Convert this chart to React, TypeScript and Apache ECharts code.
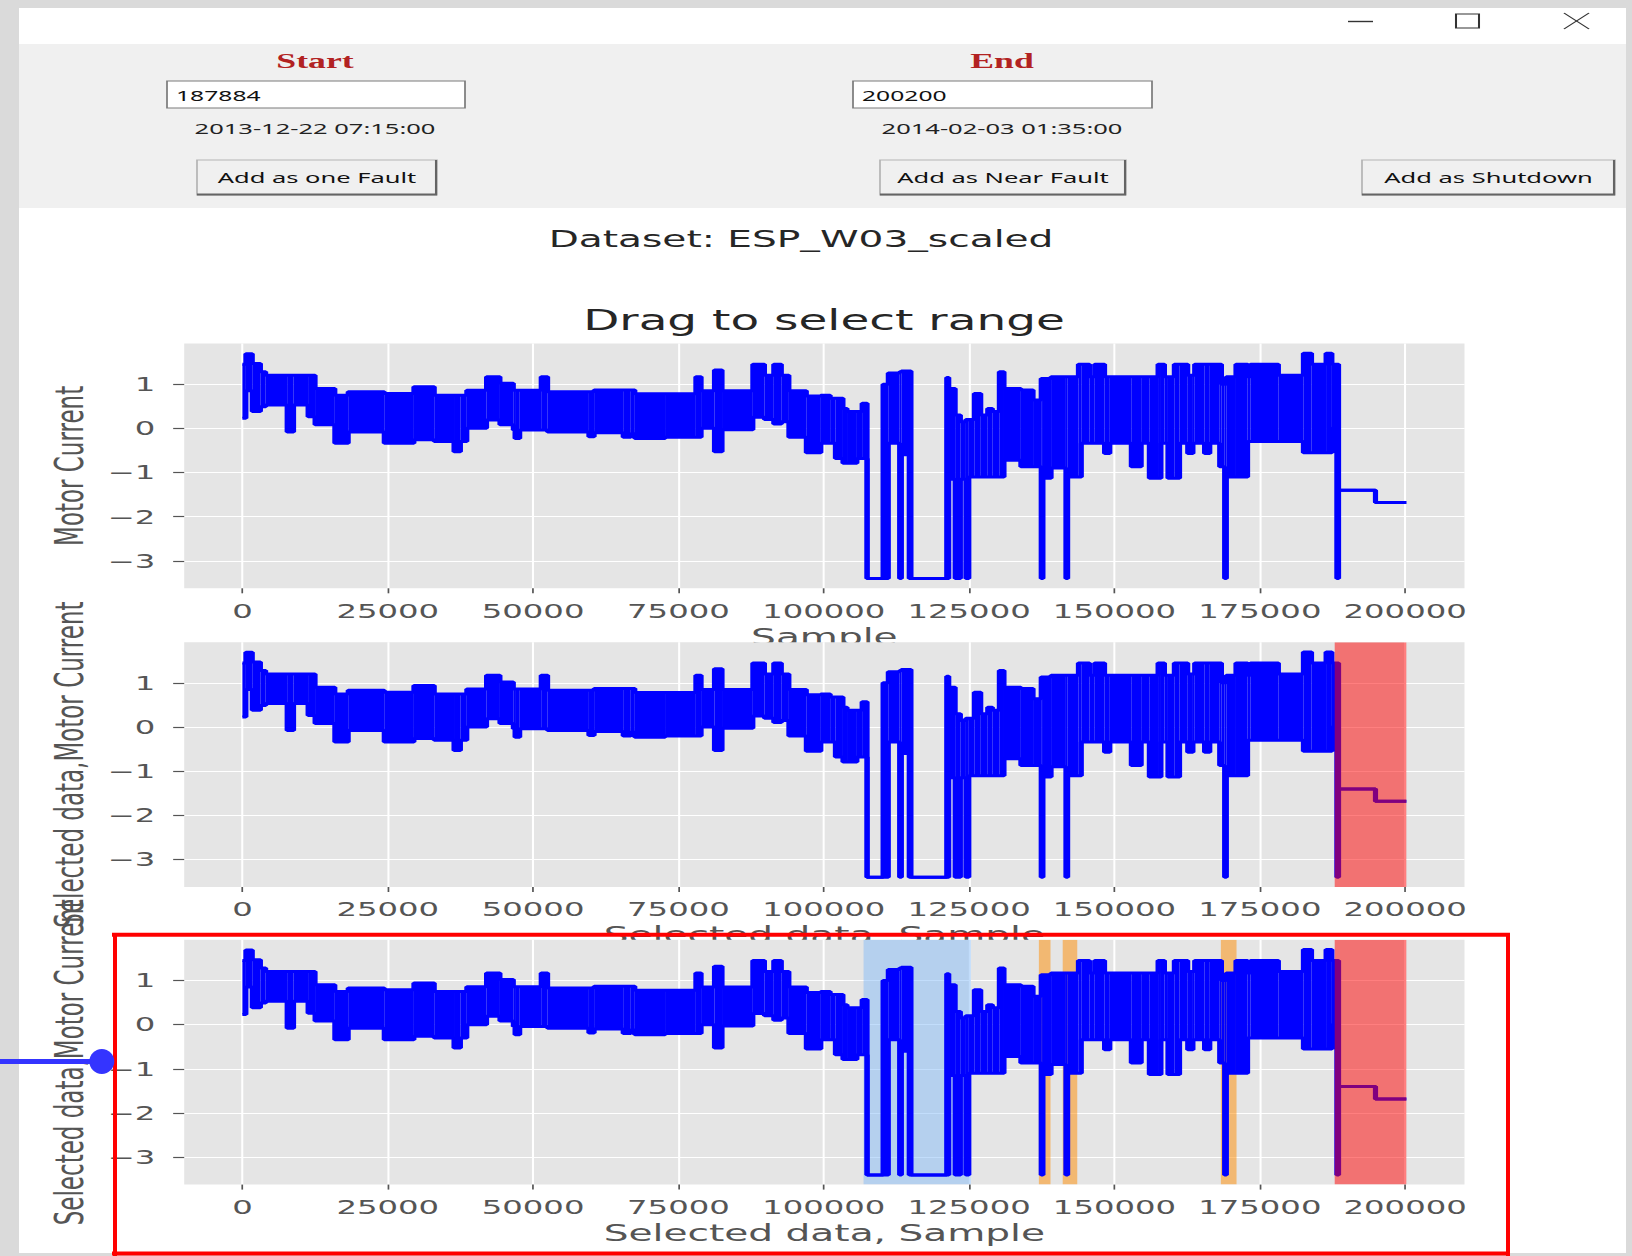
import React, { useEffect, useRef } from 'react';
import * as echarts from 'echarts';

// ---------------- data ----------------
const startIndex = '187884';
const endIndex = '200200';
const startTime = '2013-12-22 07:15:00';
const endTime = '2014-02-03 01:35:00';
const datasetTitle = 'Dataset: ESP_W03_scaled';
const chartTitle = 'Drag to select range';
const buttonLabels = ['Add as one Fault', 'Add as Near Fault', 'Add as Shutdown'];

// piecewise-constant envelope of the Motor Current signal (value holds from sampleX[i] to sampleX[i+1])
const sampleX = [
  0, 600, 1700, 3100, 4000, 7700, 8800, 11300, 12500, 15900,
  18200, 24400, 29500, 33000, 36400, 37500, 38600, 42000, 44300, 46600,
  46900, 47700, 51400, 52500, 59600, 60500, 65500, 66800, 67500, 72700,
  78000, 78900, 81200, 82500, 87800, 89800, 91400, 92700, 94000, 97000,
  99500, 101100, 102000, 103300, 104000, 105700, 106600, 107450, 110200, 111100,
  113050, 113350, 114700, 115000, 121150, 121500, 122600, 123500, 124450, 124950,
  125900, 127000, 128200, 129000, 130200, 131000, 133900, 136000, 137400, 137700,
  139100, 141650, 141950, 143800, 144300, 145700, 146600, 148300, 149200, 152900,
  154600, 156000, 157500, 158000, 158600, 159200, 160300, 161200, 162600, 163500,
  163800, 165500, 166400, 168100, 168400, 168950, 169250, 170900, 172900, 173400,
  178200, 182500, 183900, 186400, 187400, 188250, 188550, 194900, 200200,
];
const upperEnv = [
  1.45, 1.69, 1.47, 1.28, 1.2, 1.2, 1.2, 1.2, 0.9, 0.75,
  0.83, 0.79, 0.94, 0.75, 0.75, 0.75, 0.86, 1.17, 1.02, 0.86,
  0.86, 0.86, 1.17, 0.83, 0.83, 0.87, 0.87, 0.87, 0.78, 0.78,
  1.17, 0.85, 1.32, 0.85, 1.45, 1.2, 1.45, 1.2, 0.85, 0.73,
  0.75, 0.68, 0.68, 0.45, 0.38, 0.38, 0.57, -3.4, 1.0, 1.25,
  1.28, 1.3, 1.3, -3.4, 1.15, 0.9, 0.3, 0.15, 0.2, 0.2,
  0.79, 0.3, 0.45, 0.38, 1.28, 0.9, 0.87, 0.64, 1.13, 1.13,
  1.17, 1.17, 1.17, 1.45, 1.45, 1.17, 1.45, 1.17, 1.17, 1.17,
  1.17, 1.17, 1.45, 1.45, 1.17, 1.17, 1.45, 1.45, 1.2, 1.2,
  1.45, 1.45, 1.45, 1.45, 1.0, 1.0, 1.17, 1.45, 1.17, 1.45,
  1.2, 1.7, 1.45, 1.7, 1.45, 1.45, -1.4, -1.68, -1.68,
];
const lowerEnv = [
  0.23, 0.85, 0.38, 0.49, 0.53, -0.08, 0.53, 0.26, 0.08, -0.34,
  -0.08, -0.34, -0.26, -0.3, -0.53, -0.3, 0.0, 0.19, 0.08, -0.04,
  -0.23, -0.04, -0.04, -0.08, -0.19, -0.1, -0.2, -0.12, -0.23, -0.2,
  -0.2, 0.0, -0.53, -0.03, 0.25, 0.2, 0.1, 0.15, -0.2, -0.55,
  -0.34, -0.34, -0.68, -0.79, -0.79, -0.68, -0.68, -3.4, -3.4, -0.34,
  -3.4, -0.6, -3.4, -3.4, -3.4, -1.15, -3.4, -1.15, -3.4, -1.1,
  -1.1, -1.1, -1.1, -1.1, -1.1, -0.72, -0.87, -0.87, -3.4, -1.13,
  -0.9, -3.4, -1.1, -1.1, -0.34, -0.34, -0.34, -0.57, -0.34, -0.87,
  -0.34, -1.13, -1.13, -0.34, -0.34, -1.13, -1.13, -0.34, -0.57, -0.34,
  -0.34, -0.57, -0.34, -0.87, -0.87, -3.4, -1.1, -1.1, -0.3, -0.3,
  -0.3, -0.55, -0.55, -0.55, 0.0, -3.4, -1.4, -1.68, -1.68,
];

const xTicks = [0, 25000, 50000, 75000, 100000, 125000, 150000, 175000, 200000];
const yTicks = [-3, -2, -1, 0, 1];

const yAxisNames = ['Motor Current', 'Selected data,Motor Current', 'Selected data,Motor Current'];
const xAxisNames = ['Sample', 'Selected data, Sample', 'Selected data, Sample'];

const faultRanges = [[187884, 200200]];
const nearFaultRanges = [[137000, 139000], [141100, 143600], [168300, 171000]];
const shutdownRanges = [[106850, 125300]];

// ---------------- layout (internal units; page is stretched 1.7x horizontally) ----------------
const SX = 1.7;
const W = 1632 / SX;
const H = 1256;
const FONT = '"DejaVu Sans", sans-serif';
const GUI_FONT = '"Noto Sans", "Open Sans", sans-serif';
const SIGNAL = '#0000ff';

const gx = (fullX: number) => fullX / SX;

const PLOT_LEFT = gx(184.2);
const PLOT_W = gx(1464.5) - gx(184.2);
const PLOT_H = 244.8;
const plotTops = [343.5, 642.2, 939.8];

function spanRenderer(color: string) {
  return (params: any, api: any) => {
    const cs = params.coordSys;
    const x0 = api.coord([api.value(0), 0])[0];
    const x1 = api.coord([api.value(1), 0])[0];
    return {
      type: 'rect',
      shape: { x: x0, y: cs.y, width: x1 - x0, height: cs.height },
      style: { fill: color },
    };
  };
}

// fill between the lower and upper envelope, one rectangle per step
function bandRenderer(params: any, api: any) {
  const p0 = api.coord([api.value(0), api.value(3)]);
  const p1 = api.coord([api.value(1), api.value(2)]);
  return {
    type: 'rect',
    shape: { x: p0[0], y: p0[1], width: p1[0] - p0[0], height: p1[1] - p0[1] },
    style: { fill: SIGNAL },
  };
}

function buildOption() {
  const lowerData = sampleX.map((x, i) => [x, lowerEnv[i]]);
  const upperData = sampleX.map((x, i) => [x, upperEnv[i]]);
  const bandData = sampleX.slice(0, -1).map((x, i) => [x, sampleX[i + 1], lowerEnv[i], upperEnv[i]]);

  const grid: any[] = [];
  const xAxis: any[] = [];
  const yAxis: any[] = [];
  const series: any[] = [];

  plotTops.forEach((top, i) => {
    const base = i * 10;
    grid.push({
      left: PLOT_LEFT, top, width: PLOT_W, height: PLOT_H,
      show: true, backgroundColor: '#E5E5E5', borderWidth: 0, z: base,
    });
    xAxis.push({
      gridIndex: i, type: 'value', position: 'bottom', min: -10010, max: 210210, z: base + 1,
      name: xAxisNames[i], nameLocation: 'middle', nameGap: 37,
      nameTextStyle: { fontSize: 23, color: '#555555', fontFamily: FONT },
      axisLine: { show: false, onZero: false },
      axisTick: { show: true, length: 5, lineStyle: { color: '#555555', width: 1 }, customValues: xTicks },
      axisLabel: {
        customValues: xTicks, margin: 13, fontSize: 19, color: '#555555', fontFamily: FONT,
        formatter: (v: number) => String(v),
      },
      splitLine: { show: true, lineStyle: { color: '#ffffff', width: 1.2 }, customValues: xTicks },
    });
    yAxis.push({
      gridIndex: i, type: 'value', position: 'left', min: -3.62, max: 1.92, z: base + 1,
      name: yAxisNames[i], nameLocation: 'middle', nameRotate: 90, nameGap: 53,
      nameTextStyle: { fontSize: 23, color: '#555555', fontFamily: FONT },
      axisLine: { show: false, onZero: false },
      axisTick: { show: true, length: 6.5, lineStyle: { color: '#555555', width: 1.2 }, customValues: yTicks },
      axisLabel: {
        customValues: yTicks, margin: 17, fontSize: 19, color: '#555555', fontFamily: FONT,
        formatter: (v: number) => (v < 0 ? '\u2212' + Math.abs(v) : String(v)),
      },
      splitLine: { show: true, lineStyle: { color: '#ffffff', width: 1.2 }, customValues: yTicks },
    });

    if (i === 2) {
      series.push({
        type: 'custom', name: 'Shutdown', xAxisIndex: i, yAxisIndex: i, z: base + 2, silent: true,
        data: shutdownRanges, encode: { x: [0, 1] }, clip: true,
        renderItem: spanRenderer('rgba(133,187,247,0.5)'),
      });
      series.push({
        type: 'custom', name: 'Near Fault', xAxisIndex: i, yAxisIndex: i, z: base + 2, silent: true,
        data: nearFaultRanges, encode: { x: [0, 1] }, clip: true,
        renderItem: spanRenderer('rgba(255,140,0,0.5)'),
      });
    }

    series.push({
      type: 'custom', name: 'Motor Current band', xAxisIndex: i, yAxisIndex: i, z: base + 3, silent: true,
      data: bandData, encode: { x: [0, 1], y: [2, 3] }, clip: true, renderItem: bandRenderer,
    });
    const lineCommon = {
      type: 'line', xAxisIndex: i, yAxisIndex: i, step: 'end', symbol: 'none', showSymbol: false,
      silent: true, z: base + 3, lineStyle: { color: SIGNAL, width: 3 },
    };
    series.push({ ...lineCommon, name: 'Motor Current (min)', data: lowerData });
    series.push({ ...lineCommon, name: 'Motor Current (max)', data: upperData });

    if (i >= 1) {
      series.push({
        type: 'custom', name: 'Fault', xAxisIndex: i, yAxisIndex: i, z: base + 4, silent: true,
        data: faultRanges, encode: { x: [0, 1] }, clip: true,
        renderItem: spanRenderer('rgba(255,0,0,0.5)'),
      });
    }
  });

  // ---------------- GUI drawn with graphic elements ----------------
  const els: any[] = [];
  const rect = (x: number, y: number, w: number, h: number, style: any, z = 50) =>
    els.push({ type: 'rect', silent: true, z, shape: { x, y, width: w, height: h }, style });
  const line = (x1: number, y1: number, x2: number, y2: number, stroke: string, lw: number, z = 50) =>
    els.push({ type: 'line', silent: true, z, shape: { x1, y1, x2, y2 }, style: { stroke, lineWidth: lw } });
  const text = (x: number, y: number, str: string, size: number, fill: string, family: string,
    align = 'center', weight: any = 'normal', z = 50) =>
    els.push({
      type: 'text', silent: true, z, x, y,
      style: { text: str, fill, fontSize: size, fontFamily: family, fontWeight: weight, align, verticalAlign: 'middle' },
    });

  const border = '#dadada';
  rect(0, 0, W, 8, { fill: border });
  rect(0, 0, gx(19), H, { fill: border });
  rect(gx(1626), 0, W - gx(1626), H, { fill: border });
  rect(0, 1253, W, 3, { fill: border });
  // control panel
  rect(gx(19), 44, gx(1626) - gx(19), 164, { fill: '#f0f0f0' });

  // title-bar controls
  line(gx(1348), 21.5, gx(1373), 21.5, '#333333', 1.4);
  rect(gx(1456), 14, gx(1479) - gx(1456), 14, { fill: 'none', stroke: '#333333', lineWidth: 1.2 });
  line(gx(1564), 13, gx(1589), 29, '#333333', 1.0);
  line(gx(1589), 13, gx(1564), 29, '#333333', 1.0);

  const entry = (x0: number, x1: number, value: string) => {
    rect(gx(x0), 81, gx(x1) - gx(x0), 27, { fill: '#ffffff', stroke: '#7a7a7a', lineWidth: 1 });
    text(gx(x0 + 9), 95, value, 14.5, '#111111', GUI_FONT, 'left');
  };
  const button = (x0: number, x1: number, label: string) => {
    rect(gx(x0), 160, gx(x1) - gx(x0), 35, { fill: '#f0f0f0', stroke: '#b4b4b4', lineWidth: 1 });
    line(gx(x0), 194.5, gx(x1), 194.5, '#646464', 2);
    line(gx(x1) - 0.6, 160, gx(x1) - 0.6, 195, '#646464', 1.2);
    text((gx(x0) + gx(x1)) / 2, 177.5, label, 15, '#111111', GUI_FONT);
  };

  const SERIF = '"Liberation Serif", "DejaVu Serif", serif';
  text(gx(315), 61, 'Start', 21, '#b22222', SERIF, 'center', 'bold');
  entry(167, 465, startIndex);
  text(gx(315), 128.5, startTime, 15, '#222222', GUI_FONT);
  button(197, 437, buttonLabels[0]);

  text(gx(1002), 61, 'End', 21, '#b22222', SERIF, 'center', 'bold');
  entry(853, 1152, endIndex);
  text(gx(1002), 128.5, endTime, 15, '#222222', GUI_FONT);
  button(880, 1126, buttonLabels[1]);
  button(1362, 1615, buttonLabels[2]);

  // figure texts
  text(gx(801), 239, datasetTitle, 23, '#262626', FONT);
  text(gx(824), 320, chartTitle, 27.6, '#262626', FONT);

  // annotation overlay (red box + pointer)
  const red = '#ff0000';
  line(gx(112), 934.7, gx(1510), 934.7, red, 4, 100);
  line(gx(112), 1253.5, gx(1510), 1253.5, red, 4, 100);
  line(gx(115), 933, gx(115), 1256, red, 4 / SX, 100);
  line(gx(1508), 933, gx(1508), 1256, red, 4 / SX, 100);
  line(0, 1061.5, gx(100), 1061.5, '#3434ff', 5, 100);
  els.push({
    type: 'ellipse', silent: true, z: 101,
    shape: { cx: gx(101.8), cy: 1061.5, rx: 12.5 / SX, ry: 12.5 },
    style: { fill: '#3434ff' },
  });

  return {
    animation: false,
    backgroundColor: '#ffffff',
    textStyle: { fontFamily: FONT },
    grid, xAxis, yAxis, series,
    graphic: { elements: els },
  };
}

export default function App() {
  const ref = useRef<HTMLDivElement>(null);
  useEffect(() => {
    if (!ref.current) return;
    const chart = echarts.init(ref.current, null, { renderer: 'svg', width: W, height: H });
    chart.setOption(buildOption() as any);
    return () => chart.dispose();
  }, []);
  return (
    <div
      ref={ref}
      style={{
        position: 'absolute', left: 0, top: 0, width: W, height: H,
        transform: `scaleX(${SX})`, transformOrigin: '0 0', background: '#ffffff',
      }}
    />
  );
}
